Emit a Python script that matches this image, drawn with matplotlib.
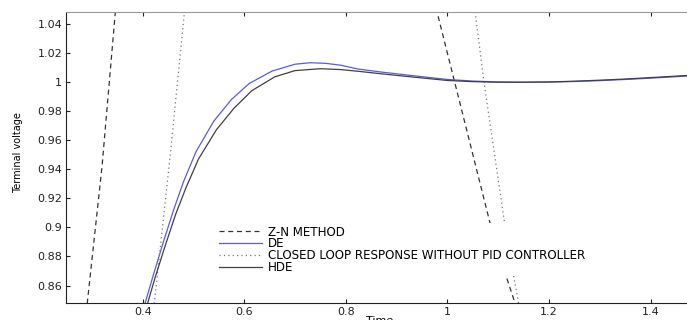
import matplotlib
matplotlib.use("Agg")
import matplotlib.pyplot as plt
from matplotlib.patches import Rectangle

# values (off-scale points are rough guesses)
t_zn = [0.25, 0.291, 0.320, 0.346, 0.40, 0.60, 0.80, 0.95, 0.980, 0.998, 1.012, 1.084, 1.116, 1.133, 1.20, 1.35, 1.50]
v_zn = [0.70, 0.848, 0.9416, 1.047, 1.20, 1.40, 1.30, 1.12, 1.0475, 1.0225, 1.0030, 0.9028, 0.866, 0.848, 0.76, 0.70, 0.75]

t_de = [0.40, 0.405, 0.42, 0.44, 0.46, 0.48, 0.505, 0.54, 0.575, 0.61, 0.655, 0.70, 0.73, 0.76, 0.79, 0.825,
        0.87, 0.92, 0.96, 1.00, 1.05, 1.10, 1.15, 1.20, 1.25, 1.30, 1.35, 1.40, 1.45, 1.50]
v_de = [0.842, 0.848, 0.866, 0.889, 0.911, 0.931, 0.952, 0.973, 0.988, 0.999, 1.0075, 1.0122, 1.0132, 1.0128,
        1.0115, 1.0088, 1.0068, 1.0048, 1.0032, 1.0017, 1.0006, 1.0000, 0.9998, 0.9999, 1.0003, 1.0009, 1.0017,
        1.0026, 1.0036, 1.0047]

t_cl = [0.25, 0.40, 0.423, 0.454, 0.482, 0.55, 0.80, 1.00, 1.055, 1.0715, 1.1125, 1.130, 1.140, 1.20, 1.50]
v_cl = [0.60, 0.78, 0.848, 0.9485, 1.047, 1.25, 1.40, 1.15, 1.047, 1.001, 0.903, 0.867, 0.848, 0.75, 0.70]

t_hde = [0.40, 0.41, 0.425, 0.445, 0.465, 0.485, 0.51, 0.545, 0.58, 0.615, 0.66, 0.70, 0.75, 0.79, 0.825,
         0.87, 0.92, 0.96, 1.00, 1.05, 1.10, 1.15, 1.20, 1.25, 1.30, 1.35, 1.40, 1.45, 1.50]
v_hde = [0.837, 0.848, 0.866, 0.888, 0.909, 0.927, 0.947, 0.967, 0.982, 0.994, 1.0035, 1.0078, 1.0091, 1.0085,
         1.0073, 1.0056, 1.0038, 1.0024, 1.0010, 1.0002, 0.9998, 0.9998, 1.0000, 1.0005, 1.0012, 1.0020,
         1.0030, 1.0040, 1.0050]

labels = ["Z-N METHOD", "DE", "CLOSED LOOP RESPONSE WITHOUT PID CONTROLLER", "HDE"]
xticks = [0.4, 0.6, 0.8, 1.0, 1.2, 1.4]
xtick_labels = ["0.4", "0.6", "0.8", "1", "1.2", "1.4"]
yticks = [0.86, 0.88, 0.9, 0.92, 0.94, 0.96, 0.98, 1.0, 1.02, 1.04]
ytick_labels = ["0.86", "0.88", "0.9", "0.92", "0.94", "0.96", "0.98", "1", "1.02", "1.04"]

plt.rcParams['font.family'] = ['DejaVu Sans']

fig = plt.figure(figsize=(6.87, 3.2), dpi=100)
# axes run past the right edge of the picture, as in the reference
ax = fig.add_axes([0.0967, 0.0531, 0.9243, 0.909])

ax.plot(t_zn, v_zn, color='#333333', lw=0.9, linestyle=(0, (4, 3)), label=labels[0])
ax.plot(t_de, v_de, color='#5a5ae6', lw=0.9, label=labels[1])
ax.plot(t_cl, v_cl, color='#777777', lw=0.9, linestyle=(0, (1, 2.5)), label=labels[2])
ax.plot(t_hde, v_hde, color='#404040', lw=0.9, label=labels[3])

ax.set_xlim(0.25, 1.5)
ax.set_ylim(0.848, 1.048)
ax.set_xticks(xticks)
ax.set_xticklabels(xtick_labels)
ax.set_yticks(yticks)
ax.set_yticklabels(ytick_labels)
ax.tick_params(direction='in', length=3, width=0.8, labelsize=8, colors='#222222',
               top=True, right=True, pad=3)
for side in ['left', 'bottom']:
    ax.spines[side].set_color('#222222')
ax.spines['top'].set_color('#999999')

# white area behind the legend hides the lines there
ax.add_patch(Rectangle((0.234, 0.096), 0.70, 0.18, transform=ax.transAxes,
                       facecolor='white', edgecolor='none', zorder=3))
leg = ax.legend(loc='upper left', bbox_to_anchor=(0.240, 0.266), frameon=False,
                fontsize=8.6, handlelength=3.6, handletextpad=0.5, labelspacing=-0.1,
                borderpad=0, borderaxespad=0)
leg.set_zorder(4)

ax.set_xlabel("Time", fontsize=8)
ax.xaxis.set_label_coords(0.494, -0.045)
fig.text(18 / 687, 0.523, "Terminal voltage", rotation=90, ha='center', va='center', fontsize=7)

fig.savefig("out.png", dpi=100)
